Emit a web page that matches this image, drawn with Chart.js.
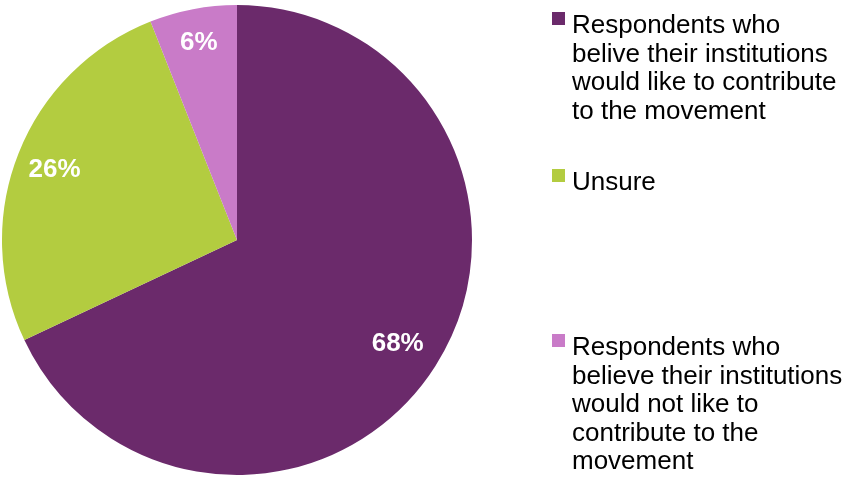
<!DOCTYPE html>
<html>
<head>
<meta charset="utf-8">
<script src="https://cdn.jsdelivr.net/npm/chart.js@4/dist/chart.umd.min.js"></script>
<style>
  html, body { margin: 0; padding: 0; background: #ffffff; }
  #wrap { position: relative; width: 847px; height: 483px; overflow: hidden; }
  #chart { position: absolute; left: 0; top: 0; }
  .legend-item { position: absolute; left: 552px; font-family: "Liberation Sans", Arial, sans-serif;
                 font-size: 26px; line-height: 28.5px; color: #000; white-space: nowrap; }
  .legend-item .box { position: absolute; left: 0; width: 13px; height: 13px; }
  .legend-item .txt { position: absolute; left: 20px; top: 0; }
</style>
</head>
<body>
<div id="wrap">
  <canvas id="chart" width="847" height="483"></canvas>
</div>
<script>
// Survey answers: share of respondents per answer
const categories = [
  "Respondents who belive their institutions would like to contribute to the movement",
  "Unsure",
  "Respondents who believe their institutions would not like to contribute to the movement"
];
const legendLines = [
  ["Respondents who", "belive their institutions", "would like to contribute", "to the movement"],
  ["Unsure"],
  ["Respondents who", "believe their institutions", "would not like to", "contribute to the", "movement"]
];
const values = [68, 26, 6];
const sliceLabels = ["68%", "26%", "6%"];
const colors = ["#6B2A6B", "#B3CC40", "#C97BC8"];
const legendTops = [10, 167, 332];
// fraction of the radius at which each percent label sits
const labelRadius = [0.81, 0.835, 0.865];

// Percent labels drawn inside each slice, digits centred on the anchor point
const sliceLabelPlugin = {
  id: "sliceLabels",
  afterDatasetsDraw(chart) {
    const ctx = chart.ctx;
    const meta = chart.getDatasetMeta(0);
    const size = 26;
    ctx.save();
    ctx.fillStyle = "#ffffff";
    ctx.font = "bold " + size + "px 'Liberation Sans', Arial, sans-serif";
    ctx.textAlign = "center";
    ctx.textBaseline = "alphabetic";
    meta.data.forEach((arc, i) => {
      const mid = (arc.startAngle + arc.endAngle) / 2;
      const r = arc.outerRadius * labelRadius[i];
      const x = arc.x + Math.cos(mid) * r;
      const y = arc.y + Math.sin(mid) * r;
      ctx.fillText(sliceLabels[i], x, y + size * 0.36);
    });
    ctx.restore();
  }
};

new Chart(document.getElementById("chart"), {
  type: "pie",
  data: {
    labels: categories,
    datasets: [{
      data: values,
      backgroundColor: colors,
      borderWidth: 0
    }]
  },
  options: {
    responsive: false,
    animation: false,
    layout: { padding: { left: 2, top: 5, right: 375, bottom: 8 } },
    plugins: {
      legend: { display: false },
      tooltip: { enabled: false }
    }
  },
  plugins: [sliceLabelPlugin]
});

// Legend to the right of the pie
const wrap = document.getElementById("wrap");
legendLines.forEach((lines, i) => {
  const item = document.createElement("div");
  item.className = "legend-item";
  item.style.top = legendTops[i] + "px";
  const box = document.createElement("div");
  box.className = "box";
  box.style.background = colors[i];
  box.style.top = "2px";
  const txt = document.createElement("div");
  txt.className = "txt";
  txt.innerHTML = lines.join("<br>");
  item.appendChild(box);
  item.appendChild(txt);
  wrap.appendChild(item);
});
</script>
</body>
</html>
